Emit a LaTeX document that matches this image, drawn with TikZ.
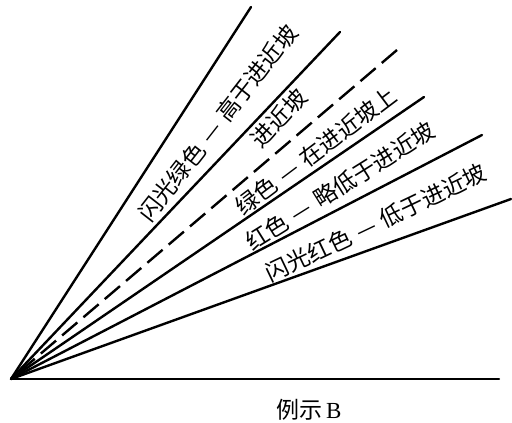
\documentclass[tikz,border=0pt]{standalone}
\usepackage{fontspec}
\setmainfont{Liberation Serif}
\newfontfamily\cjk{Noto Sans CJK SC}[Scale=1]
\newcommand{\dsh}{\hspace{0.3em}—\hspace{0.3em}}
\begin{document}
\begin{tikzpicture}[x=1pt,y=-1pt,
  ray/.style={line width=2.4pt,line cap=round},
  dashray/.style={line width=2.4pt,dash pattern=on 20pt off 8pt},
  lbl/.style={font=\cjk\fontsize{23}{25}\selectfont,inner sep=0pt,anchor=center}]
\useasboundingbox (0,0) rectangle (512,423);
\coordinate (O) at (11,379);
\coordinate (E1) at (251,7);
\coordinate (E2) at (340,32);
\coordinate (ED) at (397,50);
\coordinate (E3) at (424,97);
\coordinate (E4) at (482,135);
\coordinate (E5) at (511,199);
\coordinate (EH) at (499,379);
\draw[ray] (O) -- (E1);
\draw[ray] (O) -- (E2);
\draw[dashray] (ED) -- (O);
\draw[ray] (O) -- (E3);
\draw[ray] (O) -- (E4);
\draw[ray] (O) -- (E5);
\draw[ray] (O) -- (EH);
\node[lbl,rotate=52] (t1) at (218,123) {闪光绿色\dsh 高于进近坡};
\node[lbl,rotate=47] (t2) at (279,118) {进近坡};
\node[lbl,rotate=37] (t3) at (316,151) {绿色\dsh 在进近坡上};
\node[lbl,rotate=32] (t4) at (340,186) {红色\dsh 略低于进近坡};
\node[lbl,rotate=25.5] (t5) at (376,223) {闪光红色\dsh 低于进近坡};
\node[font=\fontsize{23}{25}\selectfont,inner sep=0pt] (cap) at (309,410) {{\cjk 例示}\,B};
\end{tikzpicture}
\end{document}
